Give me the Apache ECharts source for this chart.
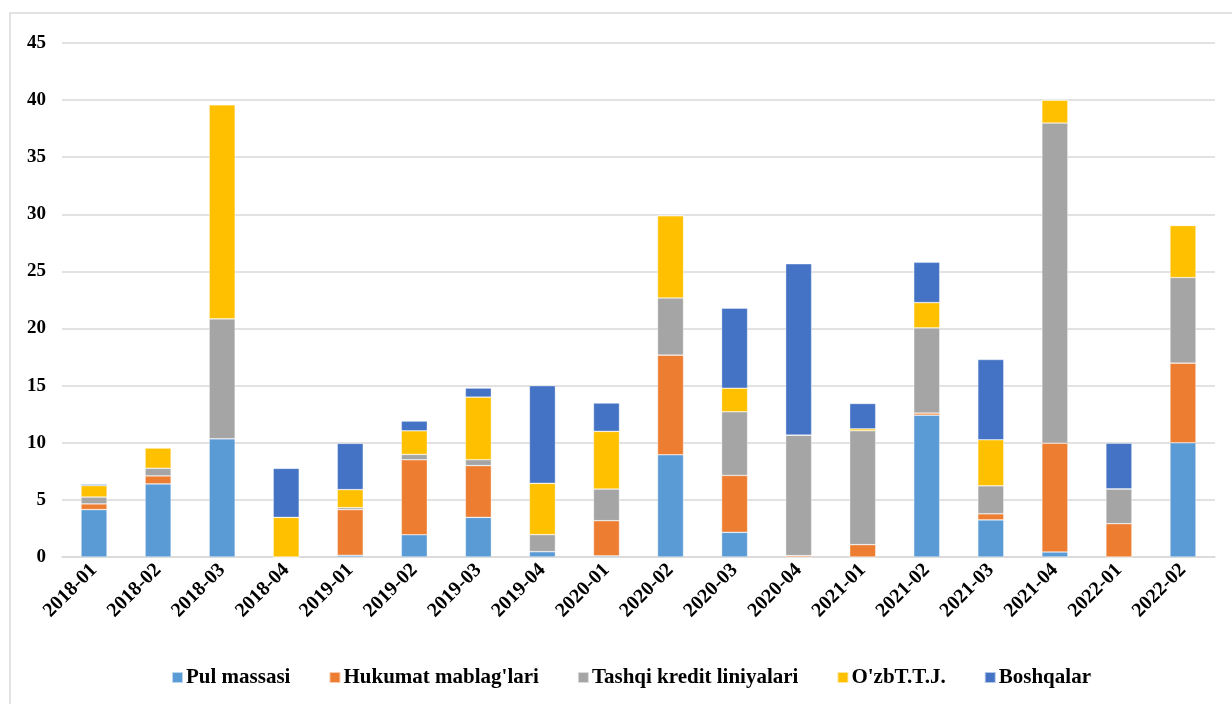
<!DOCTYPE html>
<html><head><meta charset="utf-8">
<script src="https://cdn.jsdelivr.net/npm/echarts@6/dist/echarts.min.js"></script>
<style>html,body{margin:0;padding:0;background:#fff;overflow:hidden}#c{width:1232px;height:704px}</style>
</head><body><div id="c"></div>
<script>
const categories = ['2018-01','2018-02','2018-03','2018-04','2019-01','2019-02','2019-03','2019-04','2020-01','2020-02','2020-03','2020-04','2021-01','2021-02','2021-03','2021-04','2022-01','2022-02'];
const yTicks = [0,5,10,15,20,25,30,35,40,45];
const seriesNames = ['Pul massasi', "Hukumat mablag'lari", 'Tashqi kredit liniyalari', "O'zbT.T.J.", 'Boshqalar'];
const pulMassasi   = [4.15, 6.4, 10.35, 0, 0.15, 1.95, 3.47, 0.47, 0.1, 8.95, 2.16, 0, 0, 12.42, 3.25, 0.44, 0, 10];
const hukumat      = [0.5, 0.7, 0, 0, 4.0, 6.56, 4.53, 0, 3.08, 8.72, 4.98, 0.12, 1.08, 0.18, 0.53, 9.52, 2.92, 6.97];
const tashqi       = [0.6, 0.67, 10.5, 0, 0.17, 0.47, 0.52, 1.49, 2.77, 5.01, 5.57, 10.55, 9.97, 7.46, 2.45, 28.03, 3.04, 7.5];
const ozbTTJ       = [1.0, 1.78, 18.74, 3.47, 1.58, 2.07, 5.48, 4.49, 5.05, 7.2, 2.07, 0, 0.17, 2.21, 4.03, 2.01, 0, 4.55];
const boshqalar    = [0.12, 0, 0, 4.29, 4.05, 0.85, 0.79, 8.55, 2.48, 0, 7.0, 15.0, 2.22, 3.53, 7.03, 0, 4.0, 0];
const colors = ['#5B9BD5','#ED7D31','#A5A5A5','#FFC000','#4472C4'];
const values = [pulMassasi, hukumat, tashqi, ozbTTJ, boshqalar];
const font = '"Liberation Serif", "Times New Roman", serif';

const chart = echarts.init(document.getElementById('c'), null, {renderer:'canvas'});
chart.setOption({
  animation:false,
  color: colors,
  graphic: [{type:'rect', shape:{x:10,y:13,width:1260,height:740}, style:{fill:'none', stroke:'#d9d9d9', lineWidth:1.5}, silent:true}],
  grid:{left:62, right:17, top:43, bottom:147, containLabel:false},
  legend:{
    top:662, left:166, itemWidth:11, itemHeight:11, itemGap:38,
    icon:'rect',
    textStyle:{fontFamily:font, fontWeight:'bold', fontSize:21, color:'#000', padding:[0,0,0,-2]},
    data: seriesNames
  },
  xAxis:{
    type:'category', data:categories,
    axisLine:{lineStyle:{color:'#d9d9d9', width:1.5}},
    axisTick:{show:false},
    axisLabel:{rotate:45, interval:0, margin:10, fontFamily:font, fontWeight:'bold', fontSize:20, color:'#000'}
  },
  yAxis:{
    type:'value', min:yTicks[0], max:yTicks[yTicks.length-1], interval:5,
    axisLine:{show:false}, axisTick:{show:false},
    splitLine:{lineStyle:{color:'#d9d9d9', width:1.5}},
    axisLabel:{margin:16, fontFamily:font, fontWeight:'bold', fontSize:19, color:'#000'}
  },
  series: seriesNames.map((n,i)=>({
    name:n, type:'bar', stack:'total', barWidth:26, data:values[i],
    itemStyle:{color:colors[i], borderColor:'rgba(255,255,255,0.6)', borderWidth:0.6}
  }))
});
</script></body></html>
